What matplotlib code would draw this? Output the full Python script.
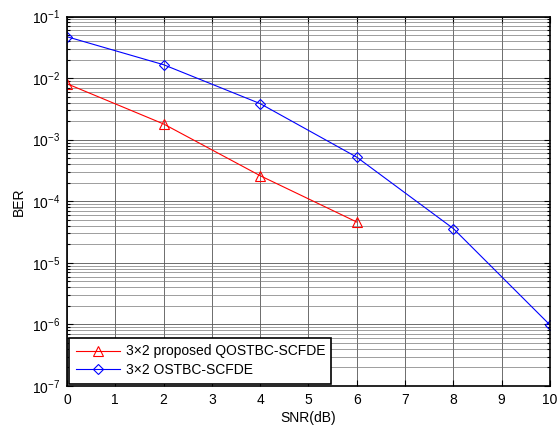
import matplotlib
matplotlib.use("Agg")
import matplotlib.pyplot as plt
from matplotlib.ticker import LogLocator, NullFormatter, FixedLocator

plt.rcParams['font.family'] = ['Liberation Sans', 'DejaVu Sans']

snr_q = [0, 2, 4, 6]
ber_q = [8.1e-3, 1.8e-3, 2.6e-4, 4.6e-5]
snr_o = [0, 2, 4, 6, 8, 10]
ber_o = [4.7e-2, 1.65e-2, 3.85e-3, 5.2e-4, 3.6e-5, 9.8e-7]
xticks = list(range(0, 11))
label_q = '3\u00d72 proposed QOSTBC-SCFDE'
label_o = '3\u00d72 OSTBC-SCFDE'

FS = 10

fig = plt.figure(figsize=(5.6, 4.29), dpi=100)
ax = fig.add_axes([0.1196, 0.1002, 0.8625, 0.8613])

ax.semilogy(snr_q, ber_q, color='red', marker='^', markersize=7,
            markerfacecolor='none', markeredgewidth=0.8, linewidth=0.8, label=label_q)
ax.semilogy(snr_o, ber_o, color='blue', marker='D', markersize=5.5,
            markerfacecolor='none', markeredgewidth=0.8, linewidth=0.8, label=label_o)

ax.set_xlim(0, 10)
ax.set_ylim(1e-7, 1e-1)
ax.xaxis.set_major_locator(FixedLocator(xticks))
ax.yaxis.set_major_locator(LogLocator(base=10, numticks=10))
ax.yaxis.set_minor_locator(LogLocator(base=10, subs=range(2, 10), numticks=20))
ax.yaxis.set_minor_formatter(NullFormatter())

ax.grid(True, which='major', color='#555555', linewidth=0.6)
ax.grid(True, which='minor', axis='y', color='#777777', linewidth=0.5)
ax.tick_params(which='both', direction='in', top=True, right=True, labelsize=FS, width=0.8)
ax.tick_params(which='major', length=4, pad=5)
ax.tick_params(which='minor', length=2)
for s in ax.spines.values():
    s.set_linewidth(1.2)

ax.set_xlabel('SNR(dB)', fontsize=FS, labelpad=3)
ax.set_ylabel('BER', fontsize=FS, labelpad=4)

leg = ax.legend(loc='lower left', fontsize=FS, fancybox=False, framealpha=1,
                edgecolor='black', borderaxespad=0.18, handlelength=3.2,
                handletextpad=0.4, labelspacing=0.35, borderpad=0.45)
leg.get_frame().set_linewidth(1.2)

fig.savefig('out.png', dpi=100)
